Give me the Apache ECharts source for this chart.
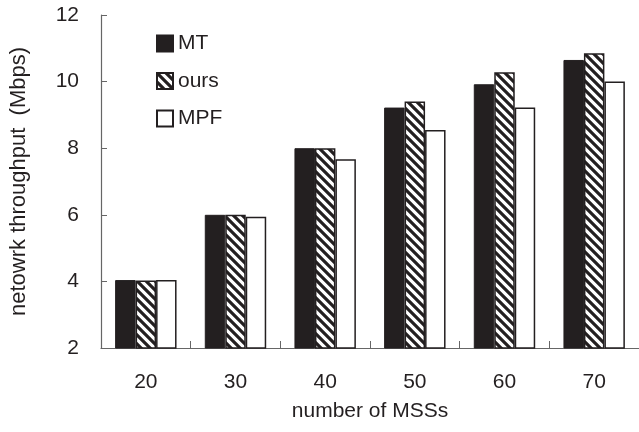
<!DOCTYPE html>
<html><head><meta charset="utf-8">
<script src="https://cdn.jsdelivr.net/npm/echarts@6/dist/echarts.min.js"></script>
<style>html,body{margin:0;padding:0;background:#fff}#c{width:639px;height:432px}</style>
</head><body><div id="c"></div>
<script>
const categories = ['20', '30', '40', '50', '60', '70'];
const seriesNames = ['MT', 'ours', 'MPF'];
const mtValues = [4.04, 6.0, 8.0, 9.22, 9.92, 10.65];
const oursValues = [4.03, 6.0, 8.0, 9.40, 10.28, 10.85];
const mpfValues = [4.04, 5.94, 7.67, 8.55, 9.22, 10.0];
const yTicks = [2, 4, 6, 8, 10, 12];
const xAxisTitle = 'number of MSSs';
const yAxisTitle = 'netowrk throughput  (Mbps)';

function hatch() {
  const s = 9;
  const c = document.createElement('canvas');
  c.width = s; c.height = s;
  const g = c.getContext('2d');
  g.fillStyle = '#fff'; g.fillRect(0, 0, s, s);
  g.strokeStyle = '#231f20'; g.lineWidth = 3.2; g.beginPath();
  g.moveTo(-2, -2); g.lineTo(s + 2, s + 2);
  g.moveTo(-2, s - 2); g.lineTo(2, s + 2);
  g.moveTo(s - 2, -2); g.lineTo(s + 2, 2);
  g.stroke();
  return c;
}

const ink = '#231f20';
const axisGray = '#666';
const font = 'Liberation Sans, Arial, sans-serif';
const chart = echarts.init(document.getElementById('c'), null, { renderer: 'canvas' });
const styles = [
  { color: ink, borderColor: ink, borderWidth: 1 },
  { color: { image: hatch(), repeat: 'repeat' }, borderColor: ink, borderWidth: 1.5 },
  { color: '#fff', borderColor: ink, borderWidth: 1.5 }
];
const values = [mtValues, oursValues, mpfValues];

chart.setOption({
  animation: false,
  backgroundColor: '#fff',
  textStyle: { fontFamily: font },
  grid: { left: 101, right: -1, top: 15, bottom: 84, containLabel: false },
  legend: {
    data: seriesNames,
    orient: 'vertical',
    left: 156, top: 33,
    padding: 0,
    itemWidth: 16, itemHeight: 16, itemGap: 16.5,
    icon: 'rect',
    textStyle: { fontSize: 21, color: ink, fontFamily: font }
  },
  xAxis: {
    type: 'category',
    data: categories,
    name: xAxisTitle,
    nameLocation: 'middle',
    nameGap: 53,
    nameTextStyle: { fontSize: 21, color: ink, fontFamily: font },
    axisLine: { show: true, lineStyle: { color: axisGray, width: 1.2 } },
    axisTick: { show: true, inside: true, length: 7, lineStyle: { color: axisGray } },
    axisLabel: { fontSize: 21, color: ink, margin: 24, fontFamily: font },
    splitLine: { show: false }
  },
  yAxis: {
    type: 'value',
    min: yTicks[0], max: yTicks[yTicks.length - 1], interval: yTicks[1] - yTicks[0],
    name: yAxisTitle,
    nameLocation: 'middle',
    nameGap: 71,
    nameRotate: 90,
    nameTextStyle: { fontSize: 22, color: ink, fontFamily: font },
    axisLine: { show: true, lineStyle: { color: axisGray, width: 1.2 } },
    axisTick: { show: true, inside: true, length: 6, lineStyle: { color: axisGray } },
    axisLabel: { fontSize: 21, color: ink, margin: 22, fontFamily: font },
    splitLine: { show: false }
  },
  series: seriesNames.map((n, i) => ({
    name: n,
    type: 'bar',
    data: values[i],
    barGap: '0%',
    barCategoryGap: '31.5%',
    itemStyle: styles[i],
    emphasis: { disabled: true }
  }))
});
</script>
</body></html>
